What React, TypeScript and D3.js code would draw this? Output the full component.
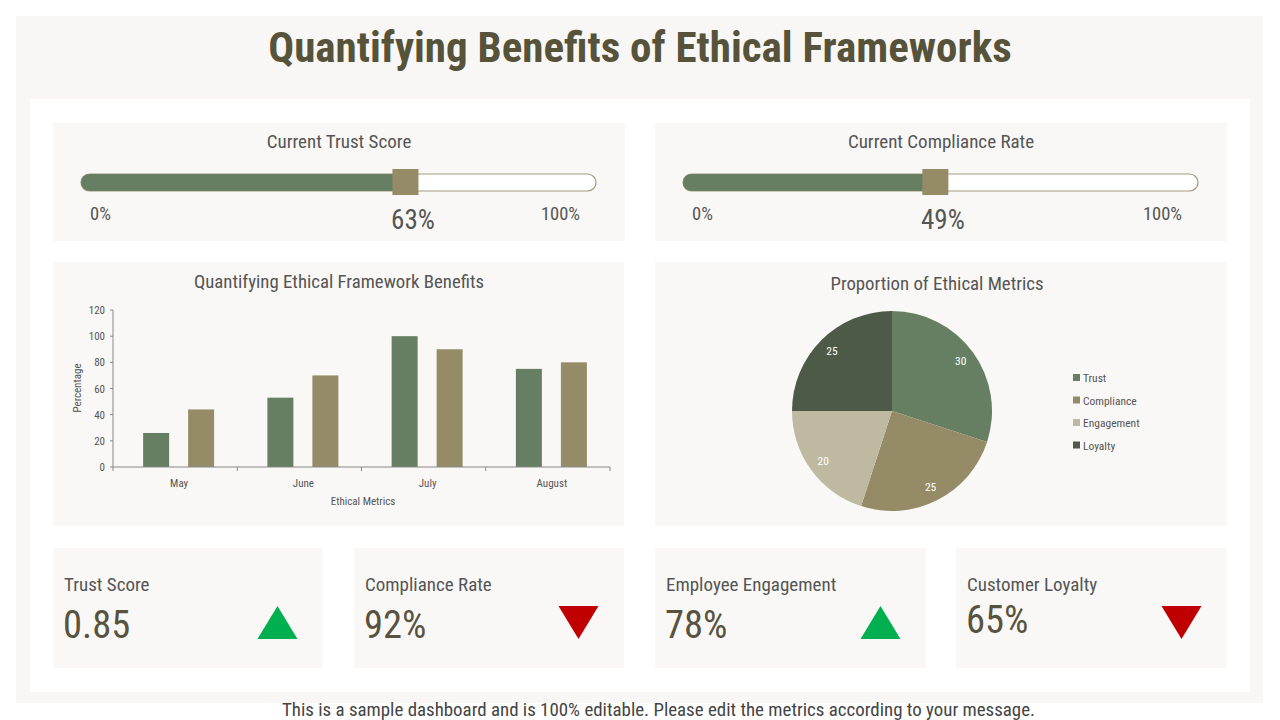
import React from 'react';
import * as d3 from 'd3';

const months = ['May', 'June', 'July', 'August'];
const trustSeries = [26, 53, 100, 75];
const complianceSeries = [44, 70, 90, 80];
const yTicks = [0, 20, 40, 60, 80, 100, 120];

const pieLabels = ['Trust', 'Compliance', 'Engagement', 'Loyalty'];
const pieValues = [30, 25, 20, 25];
const pieColors = ['#667f62', '#958c67', '#c0b9a1', '#4d5a47'];

const sliderNames = ['Current Trust Score', 'Current Compliance Rate'];
const sliderValues = [63, 49];

const kpiNames = ['Trust Score', 'Compliance Rate', 'Employee Engagement', 'Customer Loyalty'];
const kpiValues = ['0.85', '92%', '78%', '65%'];
const kpiTrend = ['up', 'down', 'up', 'down'];

const FONT = "'Roboto Condensed', 'Liberation Sans Narrow', 'DejaVu Sans Condensed', Roboto, sans-serif";
const PANEL = '#f9f8f6';
const GREEN = '#667f62';
const TAN = '#958c67';

const Slider = ({ x0, name, value }: { x0: number; name: string; value: number }) => {
  const track = d3.scaleLinear().domain([0, 100]).range([x0 + 28, x0 + 543]);
  const pos = track(value);
  return (
    <g>
      <rect x={x0} y={123} width={572} height={118} fill={PANEL} />
      <text x={x0 + 286} y={148} textAnchor="middle" fontSize={19} fill="#555">{name}</text>
      <rect x={track(0)} y={174} width={track(100) - track(0)} height={17} rx={8.5} fill="#fff" stroke="#a39a7c" strokeWidth={1.2} />
      <rect x={track(0)} y={174} width={pos - track(0)} height={17} rx={8.5} fill={GREEN} />
      <rect x={pos - 4} y={174} width={8} height={17} fill={GREEN} />
      <rect x={pos - 13} y={169} width={26} height={26} fill={TAN} />
      <text x={track(0) + 9} y={220} fontSize={18.5} fill="#555">0%</text>
      <text x={track(100) - 16} y={220} fontSize={18.5} fill="#555" textAnchor="end">100%</text>
      <text x={pos + 7.5} y={229} fontSize={27} fill="#555" textAnchor="middle">{value}%</text>
    </g>
  );
};

const BarChart = () => {
  const x = d3.scaleBand().domain(months).range([113, 610]);
  const y = d3.scaleLinear().domain([0, 120]).range([467, 310]);
  const bw = 26;
  return (
    <g>
      <rect x={53} y={262} width={571} height={264} fill={PANEL} />
      <text x={339} y={288} textAnchor="middle" fontSize={18.8} fill="#555">Quantifying Ethical Framework Benefits</text>
      {months.map((m, i) => {
        const c = (x(m) as number) + x.bandwidth() / 2;
        return (
          <g key={m}>
            <rect x={c - 19 - bw / 2} y={y(trustSeries[i])} width={bw} height={y(0) - y(trustSeries[i])} fill={GREEN} />
            <rect x={c + 26 - bw / 2} y={y(complianceSeries[i])} width={bw} height={y(0) - y(complianceSeries[i])} fill={TAN} />
            <text x={c + 4} y={487} textAnchor="middle" fontSize={11} fill="#555">{m}</text>
          </g>
        );
      })}
      <line x1={113} x2={113} y1={310} y2={467} stroke="#888" />
      <line x1={113} x2={610} y1={467} y2={467} stroke="#888" />
      {yTicks.map((t) => (
        <g key={t}>
          <line x1={110} x2={113} y1={y(t)} y2={y(t)} stroke="#888" />
          <text x={105} y={y(t) + 4} textAnchor="end" fontSize={11} fill="#555">{t}</text>
        </g>
      ))}
      {months.map((m) => (
        <line key={m} x1={(x(m) as number) + x.bandwidth()} x2={(x(m) as number) + x.bandwidth()} y1={467} y2={471} stroke="#888" />
      ))}
      <line x1={113} x2={113} y1={467} y2={471} stroke="#888" />
      <text transform="translate(81,388) rotate(-90)" textAnchor="middle" fontSize={11} fill="#555">Percentage</text>
      <text x={363} y={505} textAnchor="middle" fontSize={11} fill="#555">Ethical Metrics</text>
    </g>
  );
};

const PieChart = () => {
  const cx = 892;
  const cy = 411;
  const r = 100;
  const arcs = d3.pie<number>().sort(null)(pieValues);
  const arc = d3.arc<d3.PieArcDatum<number>>().innerRadius(0).outerRadius(r);
  const labelArc = d3.arc<d3.PieArcDatum<number>>().innerRadius(85).outerRadius(85);
  return (
    <g>
      <rect x={655} y={262} width={572} height={264} fill={PANEL} />
      <text x={937} y={290} textAnchor="middle" fontSize={18.8} fill="#555">Proportion of Ethical Metrics</text>
      <g transform={`translate(${cx},${cy})`}>
        {arcs.map((a, i) => (
          <path key={i} d={arc(a) as string} fill={pieColors[i]} />
        ))}
        {arcs.map((a, i) => {
          const [lx, ly] = labelArc.centroid(a);
          return (
            <text key={i} x={lx} y={ly + 4} textAnchor="middle" fontSize={11.5} fill="#fff">{pieValues[i]}</text>
          );
        })}
      </g>
      {pieLabels.map((l, i) => (
        <g key={l} transform={`translate(1073,${378 + i * 22.5})`}>
          <rect x={0} y={-4} width={7} height={7} fill={pieColors[i]} />
          <text x={10} y={4} fontSize={11.5} fill="#555">{l}</text>
        </g>
      ))}
    </g>
  );
};

const Kpi = ({ x0, w, name, value, trend, dy }: { x0: number; w: number; name: string; value: string; trend: string; dy: number }) => {
  const tx = x0 + w - 45.5;
  const up = trend === 'up';
  const tri = d3.line()(up
    ? [[tx - 20, 639], [tx, 606], [tx + 20, 639]]
    : [[tx - 20, 606], [tx + 20, 606], [tx, 639]]) + 'Z';
  return (
    <g>
      <rect x={x0} y={548} width={w} height={120} fill={PANEL} />
      <text x={x0 + 11} y={591} fontSize={19} fill="#555">{name}</text>
      <text x={x0 + 10} y={638 + dy} fontSize={38.5} fill="#57533f">{value}</text>
      <path d={tri} fill={up ? '#00b050' : '#c00000'} />
    </g>
  );
};

const App = () => {
  const kpiX = [53, 354, 655, 956];
  const kpiW = [270, 270, 271, 271];
  return (
    <svg width={1280} height={720} style={{ position: 'absolute', left: 0, top: 0, fontFamily: FONT, fontStretch: 'condensed' }}>
      <rect width={1280} height={720} fill="#fff" />
      <rect x={16} y={16} width={1247} height={687} fill="#f8f7f5" />
      <rect x={30} y={99} width={1220} height={593} fill="#fff" />
      <text x={640} y={62} textAnchor="middle" fontSize={43} fontWeight="bold" fill="#57533a">Quantifying Benefits of Ethical Frameworks</text>
      <Slider x0={53} name={sliderNames[0]} value={sliderValues[0]} />
      <Slider x0={655} name={sliderNames[1]} value={sliderValues[1]} />
      <BarChart />
      <PieChart />
      {kpiNames.map((n, i) => (
        <Kpi key={n} x0={kpiX[i]} w={kpiW[i]} name={n} value={kpiValues[i]} trend={kpiTrend[i]} dy={i === 3 ? -5 : 0} />
      ))}
      <text x={658.5} y={716} textAnchor="middle" fontSize={18.9} fill="#444">This is a sample dashboard and is 100% editable. Please edit the metrics according to your message.</text>
    </svg>
  );
};

export default App;
